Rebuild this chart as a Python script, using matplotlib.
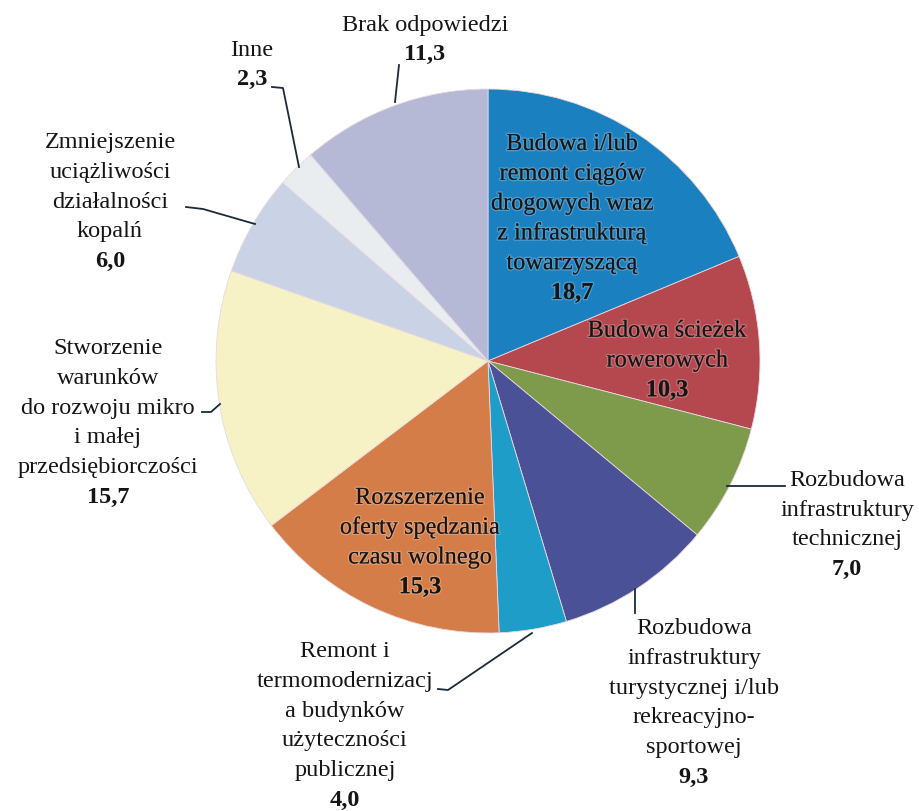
import matplotlib
matplotlib.use("Agg")
import matplotlib.pyplot as plt
import matplotlib.patheffects as pe

categories = [
    "Budowa i/lub\nremont ciągów\ndrogowych wraz\nz infrastrukturą\ntowarzyszącą",
    "Budowa ścieżek\nrowerowych",
    "Rozbudowa\ninfrastruktury\ntechnicznej",
    "Rozbudowa\ninfrastruktury\nturystycznej i/lub\nrekreacyjno-\nsportowej",
    "Remont i\ntermomodernizacj\na budynków\nużyteczności\npublicznej",
    "Rozszerzenie\noferty spędzania\nczasu wolnego",
    "Stworzenie\nwarunków\ndo rozwoju mikro\ni małej\nprzedsiębiorczości",
    "Zmniejszenie\nuciążliwości\ndziałalności\nkopalń",
    "Inne",
    "Brak odpowiedzi",
]
values = [18.7, 10.3, 7.0, 9.3, 4.0, 15.3, 15.7, 6.0, 2.3, 11.3]
value_labels = ["18,7", "10,3", "7,0", "9,3", "4,0", "15,3", "15,7", "6,0", "2,3", "11,3"]
colors = ["#1b80bf", "#b5474e", "#7e9b4c", "#4b5196", "#1f9dc9",
          "#d57d48", "#f7f1c6", "#c9d3e5", "#eaedf0", "#b6b9d6"]

W, H = 919, 812
fig = plt.figure(figsize=(W / 100, H / 100), dpi=100)
ax = fig.add_axes([0, 0, 1, 1])

def Y(py):
    return H - py

cx, cy, R = 488, 362, 272
ax.pie(values, colors=colors, startangle=90, counterclock=False,
       center=(cx, Y(cy)), radius=R, frame=True,
       wedgeprops=dict(linewidth=0.6, edgecolor="#e8d8e0"))
ax.set_xlim(0, W)
ax.set_ylim(0, H)
ax.set_aspect("equal")
ax.axis("off")

FONT = "Liberation Serif"
FS = 17.5
STEP = 29.8
glow = [pe.withStroke(linewidth=2.0, foreground=(1, 1, 1, 0.22))]

# label block centers (pixels from top-left) and whether inside the pie
label_pos = [
    (572, 220, True),
    (667, 362, True),
    (847, 525, False),
    (694, 703, False),
    (345, 726, False),
    (420, 544, True),
    (108, 423, False),
    (110, 202, False),
    (252, 65, False),
    (425, 40, False),
]

for cat, vl, (px, py, inside) in zip(categories, value_labels, label_pos):
    lines = cat.split("\n")
    n = len(lines) + 1
    top = py - (n - 1) * STEP / 2
    for i, ln in enumerate(lines):
        t = ax.text(px, Y(top + i * STEP), ln, ha="center", va="center",
                    fontsize=FS, family=FONT, color="#151515")
        if inside:
            t.set_path_effects(glow)
    t = ax.text(px, Y(top + (n - 1) * STEP), vl, ha="center", va="center",
                fontsize=FS, family=FONT, fontweight="bold", color="#151515")
    if inside:
        t.set_path_effects(glow)

# leader lines (layout)
leaders = [
    [(395, 103), (399, 66)],
    [(272, 88), (283, 89), (299, 168)],
    [(186, 208), (203, 210), (255, 225)],
    [(202, 413), (211, 413), (220, 405)],
    [(727, 487), (785, 487)],
    [(635, 590), (635, 614)],
    [(438, 690), (448, 691), (532, 634)],
]
for pts in leaders:
    xs = [p[0] for p in pts]
    ys = [Y(p[1]) for p in pts]
    ax.plot(xs, ys, color="#1a2a3a", linewidth=1.3)

fig.savefig("out.png", dpi=100, facecolor="white")
